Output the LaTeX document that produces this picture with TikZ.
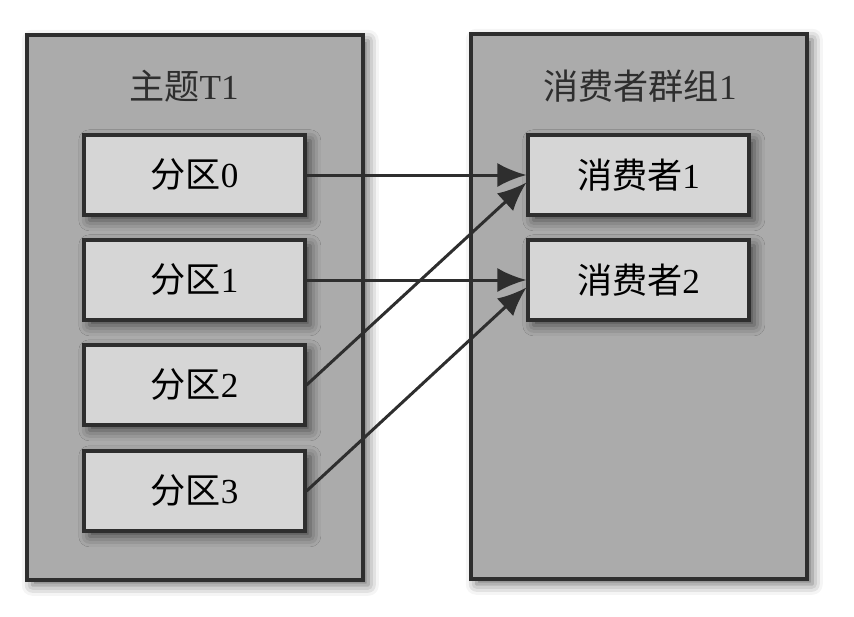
\documentclass[tikz,border=0pt]{standalone}
\usepackage{fontspec}
\setmainfont{Liberation Serif}
\newfontfamily\cjk{Noto Sans CJK SC}
\usepackage{xcolor}
\usepackage{tikz}
\usetikzlibrary{arrows.meta, shadows.blur}
\definecolor{groupgray}{gray}{0.67}
\definecolor{boxgray}{gray}{0.84}
\definecolor{edgegray}{gray}{0.18}
\tikzstyle{shade} = [blur shadow={shadow xshift=3pt, shadow yshift=-3pt, shadow blur radius=6pt, shadow opacity=60}]
\tikzstyle{groupbox} = [draw=edgegray, line width=1.8pt, fill=groupgray, shade, minimum width=6.72cm, minimum height=10.9cm]
\tikzstyle{itembox} = [draw=edgegray, line width=1.8pt, fill=boxgray, shade, minimum width=4.42cm, minimum height=1.6cm, font=\fontsize{20}{24}\selectfont]
\tikzstyle{title} = [font=\fontsize{20}{24}\selectfont, text=edgegray]
\tikzstyle{arrow} = [line width=1.7pt, draw=edgegray, -{Latex[length=0.58cm, width=0.48cm]}]

\begin{document}
\begin{tikzpicture}[x=0.02cm, y=-0.02cm]
	\useasboundingbox (0,0) rectangle (854,616);
	
	% Groups:
	\node[groupbox] (topic) at (195,307.5) {};
	\node[groupbox] (group) at (639,306.5) {};
	\node[title] (topictitle) at (184,86) {{\cjk 主题}T1};
	\node[title] (grouptitle) at (640,86) {{\cjk 消费者群组}1};
	
	% Partitions and consumers:
	\foreach \i/\y in {0/175, 1/280, 2/385, 3/491}
		\node[itembox] (p\i) at (194.5,\y) {{\cjk 分区}\i};
	\node[itembox] (c1) at (638.5,175) {{\cjk 消费者}1};
	\node[itembox] (c2) at (638.5,280) {{\cjk 消费者}2};
	
	% Assignment:
	\draw [arrow] (p0.east) -- (c1.west);
	\draw [arrow] (p1.east) -- (c2.west);
	\draw [arrow] (p2.east) -- ([yshift=-0.15cm]c1.west);
	\draw [arrow] (p3.east) -- ([yshift=-0.15cm]c2.west);
	
\end{tikzpicture}
\end{document}
